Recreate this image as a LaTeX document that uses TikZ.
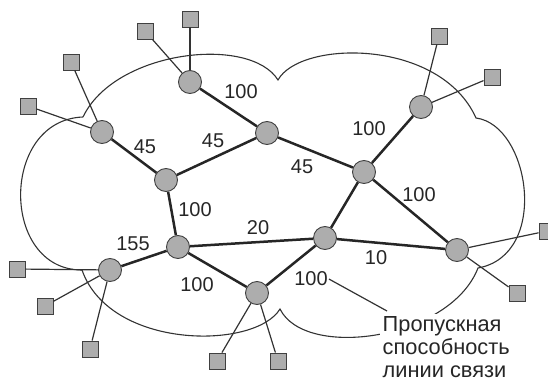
\documentclass[tikz,border=0pt]{standalone}
\usepackage{fontspec}
\setmainfont{Liberation Sans}
\usetikzlibrary{calc}

\begin{document}
\begin{tikzpicture}[x=1pt, y=-1pt,
        router/.style={circle, draw=black!75, fill=black!32, line width=0.9pt, minimum size=23pt, inner sep=0pt},
        host/.style={rectangle, draw=black!75, fill=black!32, line width=0.9pt, minimum size=16pt, inner sep=0pt},
        trunk/.style={line width=2.5pt, black!85},
        tap/.style={line width=1.2pt, black!80},
        weight/.style={font=\fontsize{20}{20}\selectfont, inner sep=1pt, text=black!85},
        note/.style={fill=white, align=left, inner sep=2.5pt, text=black!85, font=\fontsize{21.8}{23}\selectfont},
    ]
    \useasboundingbox (0,0) rectangle (548,382);

    % Cloud
    \draw[line width=1.1pt, black!80] (83,117) .. controls (115,50) and (250,35) .. (278,80)
        .. controls (300,40) and (440,38) .. (476,118)
        .. controls (530,125) and (550,255) .. (478,268)
        .. controls (450,340) and (305,360) .. (280,309)
        .. controls (255,350) and (110,350) .. (82,270)
        .. controls (0,270) and (0,120) .. (83,117);

    % Routers and hosts
    \foreach \n/\x/\y in {r1/190/82, r2/267/133, r3/102/132, r4/166/180, r5/178/247, r6/110/270,
            r7/257/293, r8/325/238, r9/364/172, r10/421/107, r11/457/250}
    \node[router] (\n) at (\x,\y) {};
    \foreach \n/\x/\y in {h1a/145/31, h1b/190/19, h3a/71/62, h3b/28/106, h10a/439/36, h10b/492/77,
            h11a/547/231, h11b/517/293, h6a/17/269, h6b/45/306, h6c/90/349, h7a/217/361, h7b/278/361}
    \node[host] (\n) at (\x,\y) {};

    % Host links
    \foreach \r/\h in {r1/h1a, r1/h1b, r3/h3a, r3/h3b, r10/h10a, r10/h10b, r11/h11a, r11/h11b,
            r6/h6a, r6/h6b, r6/h6c, r7/h7a, r7/h7b}
    \draw[tap] (\r) -- (\h);

    % Backbone links
    \foreach \a/\b in {r1/r2, r3/r4, r4/r2, r2/r9, r9/r10, r9/r11, r4/r5, r5/r6, r5/r8, r5/r7,
            r7/r8, r8/r9, r8/r11}
    \draw[trunk] (\a) -- (\b);

    % Capacities
    \foreach \n/\x/\y/\t in {w12/241/92/100, w34/145/147/45, w42/213/141/45, w29/302/167/45,
            w910/369/129/100, w911/419/195/100, w45/195/210/100, w58/258/228/20, w56/133/244/155,
            w57/197/285/100, w811/376/258/10, w78/311/279/100}
    \node[weight] (\n) at (\x,\y) {\t};

    % Legend
    \node[note, anchor=north west] (note) at (380,314) {Пропускная\\способность\\линии связи};
    \draw[tap] (w78.east) -- ([xshift=7pt,yshift=3pt]note.north west);
\end{tikzpicture}
\end{document}
